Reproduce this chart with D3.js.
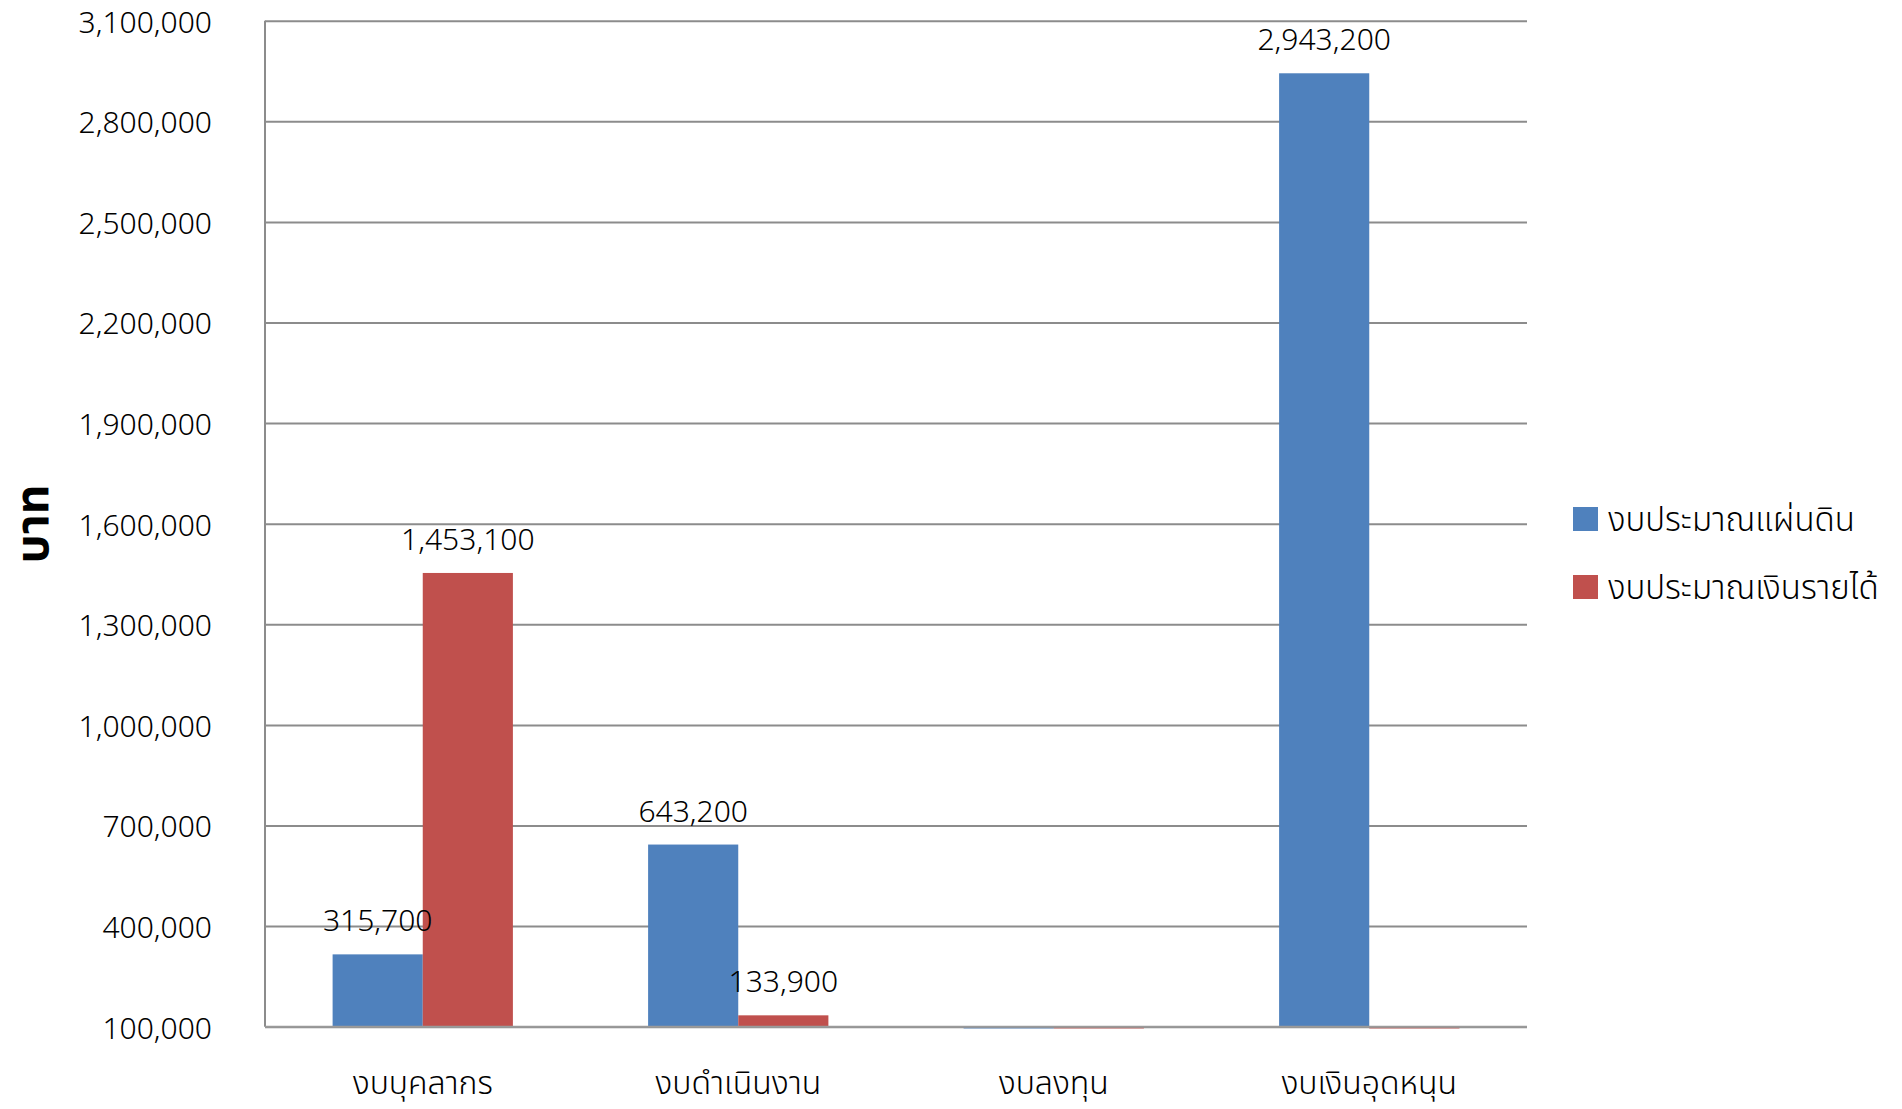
<!DOCTYPE html>
<html>
<head>
<meta charset="utf-8">
<script src="https://cdn.jsdelivr.net/npm/d3@7"></script>
<style>
  html, body { margin: 0; padding: 0; background: #fff; }
  svg { display: block; }
  text { font-family: "Noto Sans", "Noto Sans Thai", Tahoma, sans-serif; fill: #000; }
  .num { font-weight: 300; }
</style>
</head>
<body>
<svg id="chart" width="1902" height="1109"></svg>
<script>
const categories = ["งบบุคลากร", "งบดำเนินงาน", "งบลงทุน", "งบเงินอุดหนุน"];
const seriesNames = ["งบประมาณแผ่นดิน", "งบประมาณเงินรายได้"];
const seriesColors = ["#4F81BD", "#C0504D"];
const landBudget = [315700, 643200, 0, 2943200];
const incomeBudget = [1453100, 133900, 0, 0];
const yTicks = [100000, 400000, 700000, 1000000, 1300000, 1600000, 1900000, 2200000, 2500000, 2800000, 3100000];
const yTitle = "บาท";

const series = [landBudget, incomeBudget];
const svg = d3.select("#chart");
const m = { left: 265, right: 1527, top: 20.7, bottom: 1026.7 };

const y = d3.scaleLinear().domain([100000, 3100000]).range([m.bottom, m.top]);
const x0 = d3.scaleBand().domain(categories).range([m.left, m.right]).paddingInner(0).paddingOuter(0);
const barW = x0.bandwidth() / 3.5;
const x1 = d3.scaleBand().domain([0, 1]).range([0, barW * 2]);

// gridlines
svg.append("g")
  .attr("transform", `translate(${m.left},0)`)
  .call(d3.axisLeft(y).tickValues(yTicks).tickSize(-(m.right - m.left)).tickFormat(""))
  .call(g => g.select(".domain").remove())
  .call(g => g.selectAll(".tick line").attr("stroke", "#8c8c8c").attr("stroke-width", 2));

// y axis labels
svg.append("g")
  .attr("transform", `translate(${m.left},0)`)
  .call(d3.axisLeft(y).tickValues(yTicks).tickSize(0).tickPadding(53).tickFormat(d3.format(",")))
  .call(g => g.select(".domain").remove())
  .call(g => g.selectAll(".tick text").attr("font-size", 30).attr("dy", "0.38em").attr("class", "num")
    .style("font-family", "'Noto Sans', Tahoma, sans-serif"));

// bars
const barsData = [];
categories.forEach((c, i) => series.forEach((s, j) => barsData.push({ c, j, v: s[i] })));

svg.append("g").selectAll("rect").data(barsData).enter().append("rect")
  .attr("x", d => x0(d.c) + (x0.bandwidth() - barW * 2) / 2 + x1(d.j))
  .attr("width", barW)
  .attr("y", d => d.v > 100000 ? y(d.v) : y(100000))
  .attr("height", d => d.v > 100000 ? y(100000) - y(d.v) : 2)
  .attr("fill", d => seriesColors[d.j])
  .attr("opacity", d => d.v > 100000 ? 1 : 0.6);

// vertical axis line
svg.append("line")
  .attr("x1", m.left).attr("x2", m.left)
  .attr("y1", m.top).attr("y2", m.bottom)
  .attr("stroke", "#8c8c8c").attr("stroke-width", 2);
// baseline
svg.append("line")
  .attr("x1", m.left).attr("x2", m.right)
  .attr("y1", m.bottom).attr("y2", m.bottom)
  .attr("stroke", "#9a9a9a").attr("stroke-width", 2);

// data labels
svg.append("g").selectAll("text").data(barsData.filter(d => d.v > 0)).enter().append("text")
  .attr("class", "num")
  .attr("x", d => x0(d.c) + (x0.bandwidth() - barW * 2) / 2 + x1(d.j) + barW / 2)
  .attr("y", d => y(d.v) - 23)
  .attr("text-anchor", "middle")
  .attr("font-size", 30)
  .text(d => d3.format(",")(d.v));

// category labels
svg.append("g")
  .attr("transform", `translate(0,${m.bottom})`)
  .call(d3.axisBottom(x0).tickSize(0).tickPadding(45))
  .call(g => g.select(".domain").remove())
  .call(g => g.selectAll(".tick text").attr("font-size", 32).attr("class", "num"));

// y title
svg.append("text")
  .attr("transform", `translate(48,524) rotate(-90)`)
  .attr("text-anchor", "middle")
  .attr("font-size", 46)
  .attr("font-weight", "bold")
  .text(yTitle);

// legend
const lg = svg.append("g").selectAll("g").data(seriesNames).enter().append("g")
  .attr("transform", (d, i) => `translate(1573,${519 + i * 68})`);
lg.append("rect").attr("x", 0).attr("y", -12).attr("width", 25).attr("height", 24)
  .attr("fill", (d, i) => seriesColors[i]);
lg.append("text").attr("x", 35).attr("y", 0).attr("dy", "0.35em").attr("class", "num")
  .attr("font-size", 33).text(d => d);
</script>
</body>
</html>
